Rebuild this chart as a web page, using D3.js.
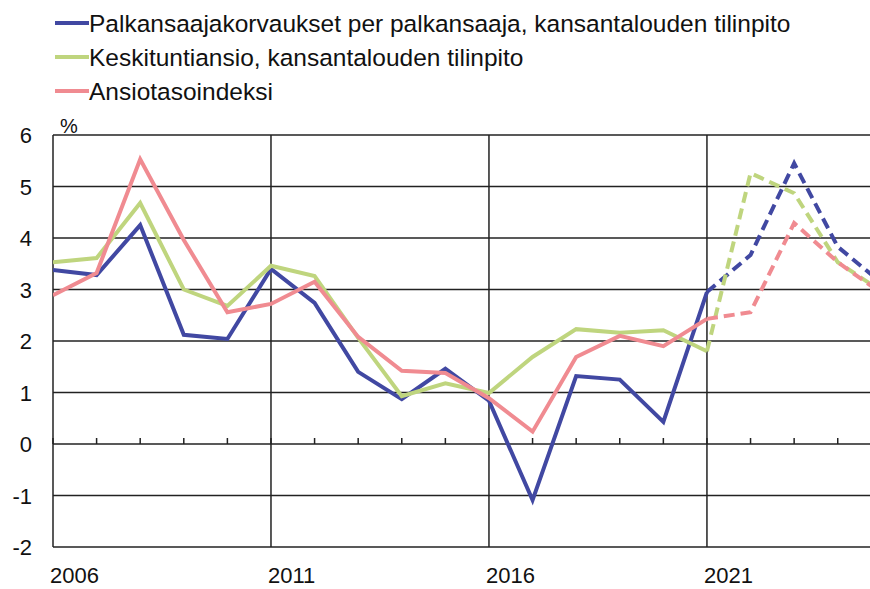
<!DOCTYPE html>
<html lang="en">
<head>
<meta charset="UTF-8">
<title>Palkat</title>
<script src="https://d3js.org/d3.v7.min.js"></script>
<style>
  body { margin: 0; background: #fff; }
  text { font-family: "Liberation Sans", Arial, sans-serif; fill: #111; }
</style>
</head>
<body>
<div id="chart"></div>
<script>
// Data
const years = d3.range(2006, 2026);
const palkansaajakorvaukset = [3.38, 3.28, 4.25, 2.12, 2.04, 3.40, 2.74, 1.40, 0.87, 1.46, 0.84, -1.09, 1.32, 1.25, 0.43, 2.95, 3.67, 5.45, 3.83, 3.13];
const keskituntiansio = [3.53, 3.61, 4.68, 3.00, 2.68, 3.46, 3.26, 2.06, 0.93, 1.18, 0.99, 1.69, 2.23, 2.16, 2.21, 1.80, 5.26, 4.87, 3.53, 2.97];
const ansiotasoindeksi = [2.89, 3.32, 5.53, 3.96, 2.56, 2.72, 3.15, 2.08, 1.42, 1.38, 0.89, 0.24, 1.69, 2.10, 1.90, 2.43, 2.56, 4.29, 3.53, 2.93];
const forecastFrom = 2021;
const seriesNames = [
  "Palkansaajakorvaukset per palkansaaja, kansantalouden tilinpito",
  "Keskituntiansio, kansantalouden tilinpito",
  "Ansiotasoindeksi"
];
const colors = ["#4148a2", "#bfd57e", "#f08b91"];
const yTicks = [-2, -1, 0, 1, 2, 3, 4, 5, 6];
const xLabels = [2006, 2011, 2016, 2021];

const W = 870, H = 589;
const svg = d3.select("#chart").append("svg")
  .attr("width", W).attr("height", H);

const x = d3.scaleLinear().domain([2006, 2024.74]).range([53, 870]);
const y = d3.scaleLinear().domain([-2, 6]).range([547, 135]);

// clip
svg.append("clipPath").attr("id", "clip")
  .append("rect").attr("x", 53).attr("y", 120).attr("width", 817).attr("height", 440);

// horizontal grid
svg.append("g").selectAll("line").data(yTicks).join("line")
  .attr("x1", 53).attr("x2", 870)
  .attr("y1", d => y(d)).attr("y2", d => y(d))
  .attr("stroke", "#222").attr("stroke-width", 1.5);

// vertical grid
svg.append("g").selectAll("line").data([2006, 2011, 2016, 2021]).join("line")
  .attr("x1", d => x(d)).attr("x2", d => x(d))
  .attr("y1", y(6)).attr("y2", y(-2))
  .attr("stroke", "#222").attr("stroke-width", 1.5);

// year ticks on zero line
svg.append("g").selectAll("line").data(years.filter(d => x(d) <= 870)).join("line")
  .attr("x1", d => x(d)).attr("x2", d => x(d))
  .attr("y1", y(0)).attr("y2", y(0) - 6)
  .attr("stroke", "#222").attr("stroke-width", 1.5);

// y labels
svg.append("g").selectAll("text").data(yTicks).join("text")
  .attr("x", 32).attr("y", d => y(d) + 8)
  .attr("text-anchor", "end")
  .style("font-size", "22px")
  .text(d => d);

svg.append("text").attr("x", 60).attr("y", 133)
  .style("font-size", "20px").text("%");

// x labels
svg.append("g").selectAll("text").data(xLabels).join("text")
  .attr("x", d => x(d) - 3).attr("y", 583)
  .style("font-size", "22px")
  .text(d => d);

// lines
const allSeries = [palkansaajakorvaukset, keskituntiansio, ansiotasoindeksi];
const line = d3.line().x(d => x(d[0])).y(d => y(d[1]));
const plot = svg.append("g").attr("clip-path", "url(#clip)");
allSeries.forEach((vals, i) => {
  const pts = years.map((yr, j) => [yr, vals[j]]);
  const solid = pts.filter(p => p[0] <= forecastFrom);
  const dashed = pts.filter(p => p[0] >= forecastFrom);
  plot.append("path").datum(solid)
    .attr("d", line).attr("fill", "none")
    .attr("stroke", colors[i]).attr("stroke-width", 4)
    .attr("stroke-linejoin", "miter");
  plot.append("path").datum(dashed)
    .attr("d", line).attr("fill", "none")
    .attr("stroke", colors[i]).attr("stroke-width", 4)
    .attr("stroke-dasharray", "11,6");
});

// legend
const legend = svg.append("g").selectAll("g").data(seriesNames).join("g")
  .attr("transform", (d, i) => `translate(0,${23 + i * 34})`);
legend.append("line")
  .attr("x1", 55).attr("x2", 89).attr("y1", 0).attr("y2", 0)
  .attr("stroke", (d, i) => colors[i]).attr("stroke-width", 4);
legend.append("text")
  .attr("x", 89).attr("y", 9)
  .style("font-size", "24.5px")
  .text(d => d);
</script>
</body>
</html>
